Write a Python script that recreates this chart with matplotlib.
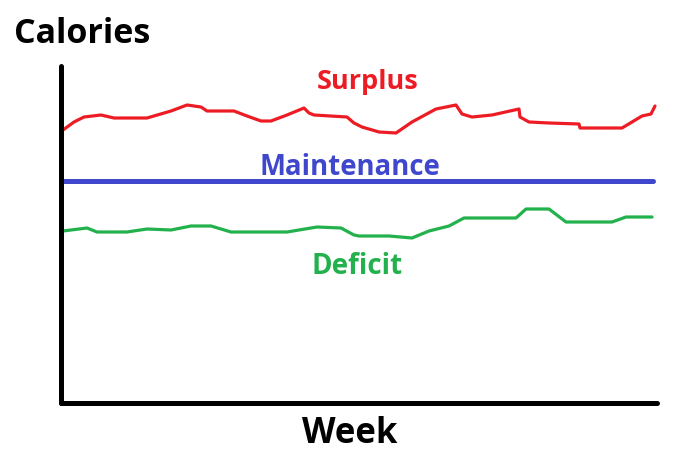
import matplotlib
matplotlib.use("Agg")
import matplotlib.pyplot as plt

# Values (x: week position, y: calories, arbitrary units)
surplus_x = [2, 13, 23, 40, 53, 86, 110, 126, 140, 146, 173, 186, 200, 210, 226, 243, 248, 253,
             286, 293, 301, 318, 335, 351, 375, 395, 401, 411, 431, 458, 459, 468, 488, 518, 519,
             561, 571, 581, 590, 594]
surplus_y = [273, 281, 286, 288, 285, 285, 292, 298, 296, 292, 292, 287, 282, 282, 288, 295, 290, 288,
             286, 280, 276, 271, 270, 281, 294, 298, 289, 286, 288, 294, 286, 281, 280, 279, 275,
             275, 281, 287, 289, 297]
deficit_x = [2, 26, 36, 66, 86, 110, 130, 150, 170, 226, 256, 280, 293, 298, 328, 351, 368, 388,
             403, 455, 465, 488, 505, 551, 565, 591]
deficit_y = [172, 175, 171, 171, 174, 173, 177, 177, 171, 171, 176, 175, 168, 167, 167, 165, 172, 177,
             185, 185, 194, 194, 181, 181, 186, 186]
maintenance_x = [1, 592]
maintenance_y = [222, 222]

series_labels = ["Surplus", "Maintenance", "Deficit"]
x_title = "Week"
y_title = "Calories"

W, H, DPI = 696, 460, 100
fig = plt.figure(figsize=(W / DPI, H / DPI), dpi=DPI)
fig.patch.set_facecolor("white")

left, bottom, right, top = 61, 404, 657, 67
ax = fig.add_axes([left / W, (H - bottom) / H, (right - left) / W, (bottom - top) / H])
ax.set_xlim(0, right - left)
ax.set_ylim(0, bottom - top)
ax.patch.set_alpha(0)

RED, BLUE, GREEN = "#ed1c24", "#3f48cc", "#22b14c"
ax.plot(surplus_x, surplus_y, color=RED, lw=2.3, solid_joinstyle="round", solid_capstyle="round")
ax.plot(deficit_x, deficit_y, color=GREEN, lw=2.3, solid_joinstyle="round", solid_capstyle="round")
ax.plot(maintenance_x, maintenance_y, color=BLUE, lw=3.6, solid_capstyle="round")

for s in ["top", "right"]:
    ax.spines[s].set_visible(False)
for s in ["left", "bottom"]:
    ax.spines[s].set_linewidth(3.6)
    ax.spines[s].set_color("black")
    ax.spines[s].set_capstyle("round")
ax.set_xticks([])
ax.set_yticks([])

font = "Open Sans"
ax.text(368 - left, bottom - 89, series_labels[0], color=RED, fontsize=19.5, fontweight="bold",
        family=font, ha="center", va="baseline")
ax.text(350 - left, bottom - 175, series_labels[1], color=BLUE, fontsize=19.8, fontweight="bold",
        family=font, ha="center", va="baseline")
ax.text(357 - left, bottom - 274, series_labels[2], color=GREEN, fontsize=20, fontweight="bold",
        family=font, ha="center", va="baseline")

fig.text(14 / W, (H - 43) / H, y_title, fontsize=24.5, fontweight="bold", family=font,
         ha="left", va="baseline")
fig.text(350 / W, (H - 443) / H, x_title, fontsize=25, fontweight="bold", family=font,
         ha="center", va="baseline")

fig.savefig("out.png", dpi=DPI, facecolor="white")
